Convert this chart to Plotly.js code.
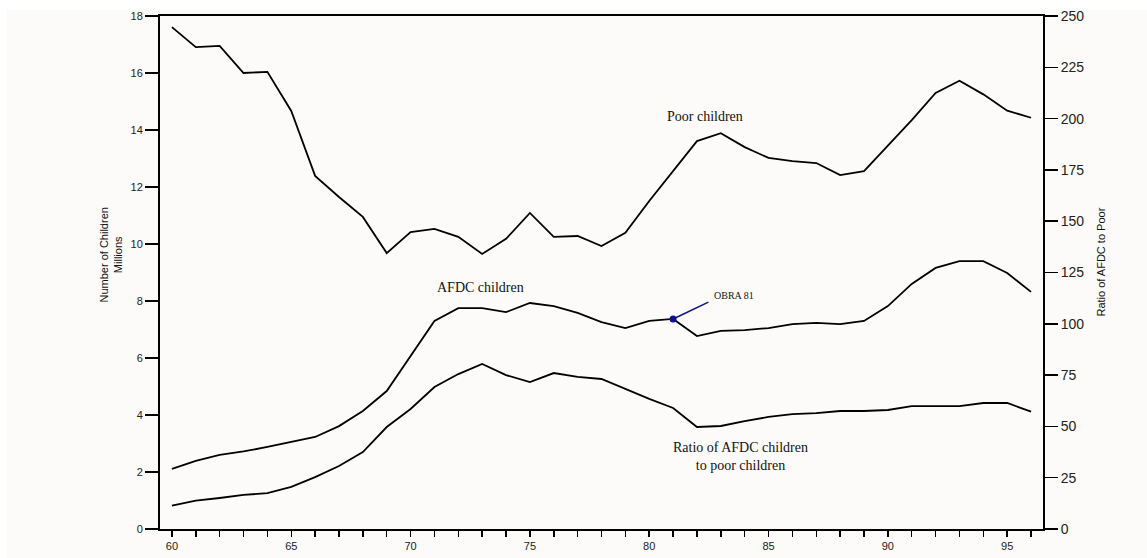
<!DOCTYPE html>
<html>
<head>
<meta charset="utf-8">
<script src="https://cdn.plot.ly/plotly-3.0.1.min.js"></script>
<style>
html,body{margin:0;padding:0;background:#ffffff;}
#chart{width:1147px;height:558px;}
</style>
</head>
<body>
<div id="chart"></div>
<script>
var years = [60,61,62,63,64,65,66,67,68,69,70,71,72,73,74,75,76,77,78,79,80,81,82,83,84,85,86,87,88,89,90,91,92,93,94,95,96];
var poorChildren = [17.61,16.91,16.95,16.0,16.04,14.67,12.39,11.65,10.95,9.68,10.42,10.53,10.25,9.65,10.18,11.09,10.25,10.28,9.93,10.39,11.51,12.56,13.61,13.89,13.4,13.02,12.91,12.84,12.42,12.56,13.44,14.35,15.3,15.73,15.25,14.68,14.43];
var afdcChildren = [2.11,2.39,2.6,2.72,2.88,3.05,3.23,3.61,4.14,4.84,6.07,7.3,7.75,7.75,7.61,7.93,7.82,7.58,7.26,7.05,7.3,7.37,6.77,6.95,6.98,7.05,7.19,7.23,7.19,7.3,7.82,8.6,9.16,9.4,9.4,8.98,8.32];
var ratio = [11.4,13.8,15.1,16.6,17.5,20.5,25.3,30.7,37.5,49.7,58.5,69.2,75.5,80.4,75.0,71.6,76.0,74.1,73.1,68.2,63.4,59.0,49.7,50.2,52.6,54.6,56.0,56.5,57.5,57.5,58.0,59.9,59.9,59.9,61.4,61.4,57.2];
var obraYear = [81];
var obraValue = [7.37];
var xTickLabels = years.map(function(y){ return (y % 5 === 0) ? String(y) : ''; });
var leftTicks = [0,2,4,6,8,10,12,14,16,18];
var rightTicks = [0,25,50,75,100,125,150,175,200,225,250];

var lineStyle = {color:'#000000', width:1.8};
var traces = [
  {x: years, y: poorChildren, type:'scatter', mode:'lines', line: lineStyle, xaxis:'x', yaxis:'y', hoverinfo:'skip'},
  {x: years, y: afdcChildren, type:'scatter', mode:'lines', line: lineStyle, xaxis:'x', yaxis:'y', hoverinfo:'skip'},
  {x: years, y: ratio, type:'scatter', mode:'lines', line: lineStyle, xaxis:'x', yaxis:'y2', hoverinfo:'skip'},
  {x: obraYear, y: obraValue, type:'scatter', mode:'markers', marker:{color:'#10108a', size:7}, xaxis:'x', yaxis:'y', hoverinfo:'skip'}
];

var serif = 'Liberation Serif, Times New Roman, serif';
var sans = 'Liberation Sans, Arial, sans-serif';

var layout = {
  width:1147, height:558,
  margin:{l:160, r:104, t:16, b:29},
  paper_bgcolor:'#ffffff',
  plot_bgcolor:'#fcfbf9',
  showlegend:false,
  xaxis:{
    range:[59.5,96.5],
    tickmode:'array', tickvals: years, ticktext: xTickLabels,
    ticks:'outside', ticklen:6, tickwidth:1.5, tickcolor:'#000',
    showline:true, linecolor:'#000', linewidth:2, mirror:true,
    showgrid:false, zeroline:false,
    tickfont:{family:sans, size:11, color:'#222'}
  },
  yaxis:{
    range:[0,18],
    tickmode:'array', tickvals: leftTicks,
    ticks:'outside', ticklen:13, tickwidth:1.5, tickcolor:'#000',
    showline:true, linecolor:'#000', linewidth:2,
    showgrid:false, zeroline:false,
    tickfont:{family:sans, size:11, color:'#222'}
  },
  yaxis2:{
    range:[0,250], overlaying:'y', side:'right',
    tickmode:'array', tickvals: rightTicks,
    ticks:'outside', ticklen:13, tickwidth:1.5, tickcolor:'#000',
    showline:true, linecolor:'#000', linewidth:2,
    showgrid:false, zeroline:false,
    tickfont:{family:sans, size:14, color:'#222'}
  },
  shapes:[
    {type:'rect', xref:'paper', yref:'paper', x0:-0.1733, x1:1.1178, y0:-0.0565, y1:1.0117,
     fillcolor:'#fcfbf9', line:{width:0}, layer:'below'},
    {type:'line', xref:'x', yref:'y', x0:81, y0:7.37, x1:82.48, y1:7.96,
     line:{color:'#10108a', width:1.5}}
  ],
  annotations:[
    {text:'Poor children', x:82.35, y:14.46, xref:'x', yref:'y', showarrow:false,
     font:{family:serif, size:14, color:'#111'}},
    {text:'AFDC children', x:72.92, y:8.49, xref:'x', yref:'y', showarrow:false,
     font:{family:serif, size:14, color:'#111'}},
    {text:'Ratio of AFDC children<br>to poor children', x:83.82, y:2.53, xref:'x', yref:'y', showarrow:false,
     font:{family:serif, size:14, color:'#111'}},
    {text:'OBRA 81', x:82.64, y:8.18, xref:'x', yref:'y', xanchor:'left', showarrow:false,
     font:{family:serif, size:10, color:'#111'}},
    {text:'Number of Children<br>Millions', xref:'paper', yref:'paper', x:0, y:0.5, xanchor:'center', yanchor:'middle',
     xshift:-50, yshift:17,
     textangle:-90, showarrow:false, font:{family:sans, size:11, color:'#111'}},
    {text:'Ratio of AFDC to Poor', xref:'paper', yref:'paper', x:1, y:0.5, xanchor:'center', yanchor:'middle',
     xshift:57, yshift:10,
     textangle:-90, showarrow:false, font:{family:sans, size:11, color:'#111'}}
  ]
};

Plotly.newPlot('chart', traces, layout, {displayModeBar:false, staticPlot:true});
</script>
</body>
</html>
